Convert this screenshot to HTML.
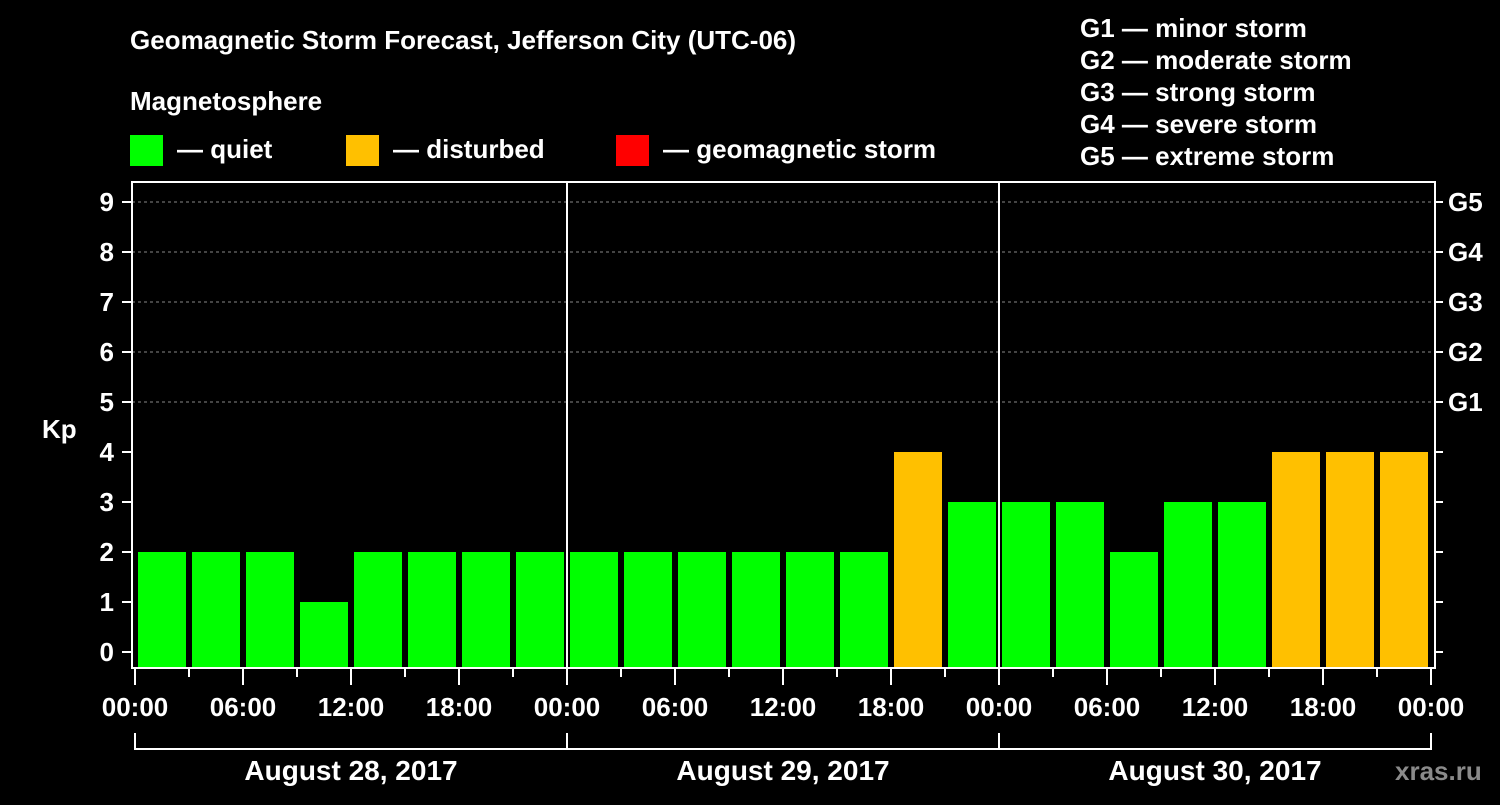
<!DOCTYPE html>
<html><head><meta charset="utf-8"><style>
body{margin:0;background:#000;}
svg text{font-family:"Liberation Sans",sans-serif;font-weight:bold;fill:#fff;}
</style></head><body>
<svg id="c" width="1500" height="800" viewBox="0 0 1500 800">
<rect width="1500" height="800" fill="#000"/>
<text x="130" y="49" font-size="26">Geomagnetic Storm Forecast, Jefferson City (UTC-06)</text>
<text x="130" y="110" font-size="26">Magnetosphere</text>
<g>
<rect x="130" y="135" width="33" height="31" fill="#00ff00"/>
<text x="177" y="158" font-size="26">— quiet</text>
<rect x="346" y="135" width="33" height="31" fill="#ffc000"/>
<text x="393" y="158" font-size="26">— disturbed</text>
<rect x="616" y="135" width="33" height="31" fill="#ff0000"/>
<text x="663" y="158" font-size="26">— geomagnetic storm</text>
</g>
<g font-size="26">
<text x="1080" y="37">G1 — minor storm</text>
<text x="1080" y="69">G2 — moderate storm</text>
<text x="1080" y="101">G3 — strong storm</text>
<text x="1080" y="133">G4 — severe storm</text>
<text x="1080" y="165">G5 — extreme storm</text>
</g>
<text x="42" y="438" font-size="26">Kp</text>
<text x="1395" y="780" font-size="26" fill="#888" style="fill:#8a8a8a">xras.ru</text>
<g id="plot"></g>
</svg>
<script>
const values=[2,2,2,1,2,2,2,2, 2,2,2,2,2,2,4,3, 3,3,2,3,3,4,4,4];
const hourLabels=["00:00","06:00","12:00","18:00","00:00","06:00","12:00","18:00","00:00","06:00","12:00","18:00","00:00"];
const dayLabels=["August 28, 2017","August 29, 2017","August 30, 2017"];
const kpTicks=[0,1,2,3,4,5,6,7,8,9];
const gLabels={5:"G1",6:"G2",7:"G3",8:"G4",9:"G5"};
const NS="http://www.w3.org/2000/svg";
const g=document.getElementById('plot');
const X0=135,BW=54,Y0=652,KU=50,L=132,R=1435,T=182,B=668;
const x=i=>X0+BW*i, y=v=>Y0-KU*v;
function mk(t,a,p){const e=document.createElementNS(NS,t);for(const k in a)e.setAttribute(k,a[k]);(p||g).appendChild(e);return e;}
// grid
kpTicks.forEach(k=>{
 if(k>=5){const l=mk('line',{x1:L,x2:R,y1:y(k),y2:y(k),stroke:'#888','stroke-dasharray':'3,3','stroke-width':1});
 }
 const t=mk('line',{x1:122,x2:L,y1:y(k),y2:y(k),stroke:'#fff','stroke-width':2});
 
 const tt=mk('text',{x:114,y:y(k)+9,'font-size':26,'text-anchor':'end'});tt.textContent=k;
 
 const rt=mk('line',{x1:R,x2:R+8,y1:y(k),y2:y(k),stroke:'#fff','stroke-width':2});
 
 if(gLabels[k]){const gt=mk('text',{x:1448,y:y(k)+9,'font-size':26});gt.textContent=gLabels[k];
 }
});
// bars
values.forEach((v,i)=>{
 const r=mk('rect',{x:x(i)+3,y:y(v),width:48,height:B-y(v),fill:v>=5?'#ff0000':v>=4?'#ffc000':'#00ff00'});
 
});
// day separators
[1,2].forEach(d=>{const l=mk('line',{x1:x(d*8),x2:x(d*8),y1:T,y2:B,stroke:'#fff','stroke-width':2});
 });
// frame
const f=mk('rect',{x:L,y:T,width:R-L,height:B-T,fill:'none',stroke:'#fff','stroke-width':2});

// x ticks
for(let i=0;i<=24;i++){
 const major=i%2==0;
 const t=mk('line',{x1:x(i),x2:x(i),y1:B,y2:major?685:677,stroke:'#fff','stroke-width':2});
 
}
hourLabels.forEach((h,j)=>{const t=mk('text',{x:x(j*2),y:716,'font-size':26,'text-anchor':'middle'});t.textContent=h;
 });
// brackets
const br=mk('path',{d:`M${x(0)},733V749H${x(24)}V733M${x(8)},733V749M${x(16)},733V749`,stroke:'#fff','stroke-width':2,fill:'none'});

dayLabels.forEach((d,j)=>{const t=mk('text',{x:x(j*8+4),y:780,'font-size':28,'text-anchor':'middle'});t.textContent=d;
 });
</script>
</body></html>
